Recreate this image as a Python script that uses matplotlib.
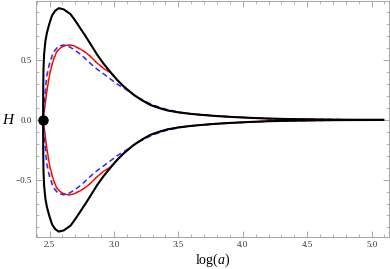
import matplotlib
matplotlib.use('Agg')
from matplotlib import pyplot as plt
from matplotlib.ticker import MultipleLocator
import numpy as np

# upper branches (lower branches are the mirror images)
black_x = [2.450, 2.4505, 2.451, 2.453, 2.458, 2.468, 2.480, 2.500, 2.520, 2.545, 2.572,
           2.610, 2.663, 2.700, 2.740, 2.780, 2.818, 2.870, 2.920, 2.973, 3.025,
           3.076, 3.153, 3.220, 3.283, 3.350, 3.412, 3.500, 3.600, 3.670, 3.800,
           3.926, 4.060, 4.200, 4.400, 4.600, 4.800, 5.090]
black_h = [0.0, 0.15, 0.25, 0.42, 0.55, 0.66, 0.73, 0.81, 0.875, 0.915, 0.935,
           0.925, 0.885, 0.83, 0.765, 0.70, 0.635, 0.545, 0.47, 0.40, 0.335,
           0.28, 0.21, 0.163, 0.125, 0.10, 0.08, 0.063, 0.05, 0.043, 0.032,
           0.024, 0.017, 0.011, 0.006, 0.003, 0.0015, 0.0005]

red_x = [2.450, 2.464, 2.477, 2.490, 2.502, 2.516, 2.529, 2.554, 2.580, 2.606,
         2.635, 2.657, 2.690, 2.735, 2.770, 2.812, 2.864, 2.920, 2.973, 3.025,
         3.076, 3.153, 3.220, 3.283, 3.350, 3.412, 3.500, 3.600, 3.670, 3.800,
         3.926, 4.060, 4.200, 4.400, 4.600, 4.800, 5.090]
red_h = [0.0, 0.107, 0.22, 0.31, 0.385, 0.445, 0.496, 0.565, 0.598, 0.615,
         0.625, 0.627, 0.62, 0.595, 0.572, 0.537, 0.48, 0.43, 0.395, 0.333,
         0.279, 0.21, 0.163, 0.125, 0.10, 0.08, 0.063, 0.05, 0.043, 0.032,
         0.024, 0.017, 0.011, 0.006, 0.003, 0.0015, 0.0005]

orange_x = [2.450, 2.464, 2.477, 2.502, 2.529, 2.554, 2.580, 2.620, 2.650, 2.690,
            2.735, 2.770, 2.812, 2.864, 2.920, 2.973, 3.025, 3.076, 3.153, 3.220,
            3.283, 3.350, 3.412, 3.500, 3.600, 3.800, 4.200, 4.800, 5.090]
orange_h = [0.0, 0.14, 0.26, 0.42, 0.52, 0.575, 0.605, 0.625, 0.627, 0.617,
            0.592, 0.572, 0.537, 0.482, 0.432, 0.396, 0.333, 0.279, 0.21, 0.163,
            0.125, 0.10, 0.08, 0.063, 0.05, 0.032, 0.011, 0.0015, 0.0005]

blue_x = [2.450, 2.455, 2.464, 2.477, 2.490, 2.502, 2.529, 2.567, 2.606, 2.640,
          2.684, 2.740, 2.800, 2.850, 2.920, 3.025, 3.100, 3.200, 3.300, 3.400,
          3.500, 3.600, 3.800, 4.200, 4.800, 5.090]
blue_h = [0.0, 0.08, 0.19, 0.357, 0.43, 0.48, 0.565, 0.615, 0.627, 0.62,
          0.593, 0.55, 0.49, 0.44, 0.385, 0.30, 0.25, 0.18, 0.125, 0.09,
          0.066, 0.05, 0.032, 0.011, 0.0015, 0.0005]

dot_x = [2.45]
dot_h = [0.0]

plt.rcParams['font.family'] = ['Liberation Serif', 'DejaVu Serif']
plt.rcParams['mathtext.fontset'] = 'custom'
plt.rcParams['mathtext.rm'] = 'Liberation Serif'
plt.rcParams['mathtext.it'] = 'Liberation Serif:italic'

fig = plt.figure(figsize=(3.9, 2.69), dpi=100)
ax = fig.add_axes([36 / 390, 1 - 237 / 269, 353 / 390, 236 / 269])

for sign in (1, -1):
    ax.plot(orange_x, sign * np.array(orange_h), color='#ffa030', lw=1.0,
            dashes=(3, 2.5), zorder=2)
    ax.plot(red_x, sign * np.array(red_h), color='#ff0000', lw=1.0, zorder=3)
    ax.plot(blue_x, sign * np.array(blue_h), color='#1f2fff', lw=1.1,
            dashes=(3.5, 2.2), zorder=4)
    ax.plot(black_x, sign * np.array(black_h), color='black', lw=1.5, zorder=5)
ax.plot(dot_x, dot_h, 'o', color='black', ms=6.5, zorder=6, clip_on=False)

ax.set_xlim(2.395, 5.135)
ax.set_ylim(-0.98, 0.995)
ax.xaxis.set_major_locator(MultipleLocator(0.5))
ax.xaxis.set_minor_locator(MultipleLocator(0.1))
ax.yaxis.set_major_locator(MultipleLocator(0.5))
ax.yaxis.set_minor_locator(MultipleLocator(0.1))
ax.tick_params(which='both', direction='in', top=True, right=True,
               color='#999999', labelsize=6.5, labelcolor='#333333', pad=3)
ax.tick_params(which='major', length=4, width=0.6)
ax.tick_params(which='minor', length=2, width=0.5)
for s in ax.spines.values():
    s.set_color('#aaaaaa')
    s.set_linewidth(0.8)

ax.set_xlabel(r'$\mathrm{log}(a)$', fontsize=10, labelpad=2)
fig.text(8 / 390, 1 - 120 / 269, 'H', fontsize=11, fontstyle='italic',
         ha='center', va='center')

fig.savefig('out.png', dpi=100)
